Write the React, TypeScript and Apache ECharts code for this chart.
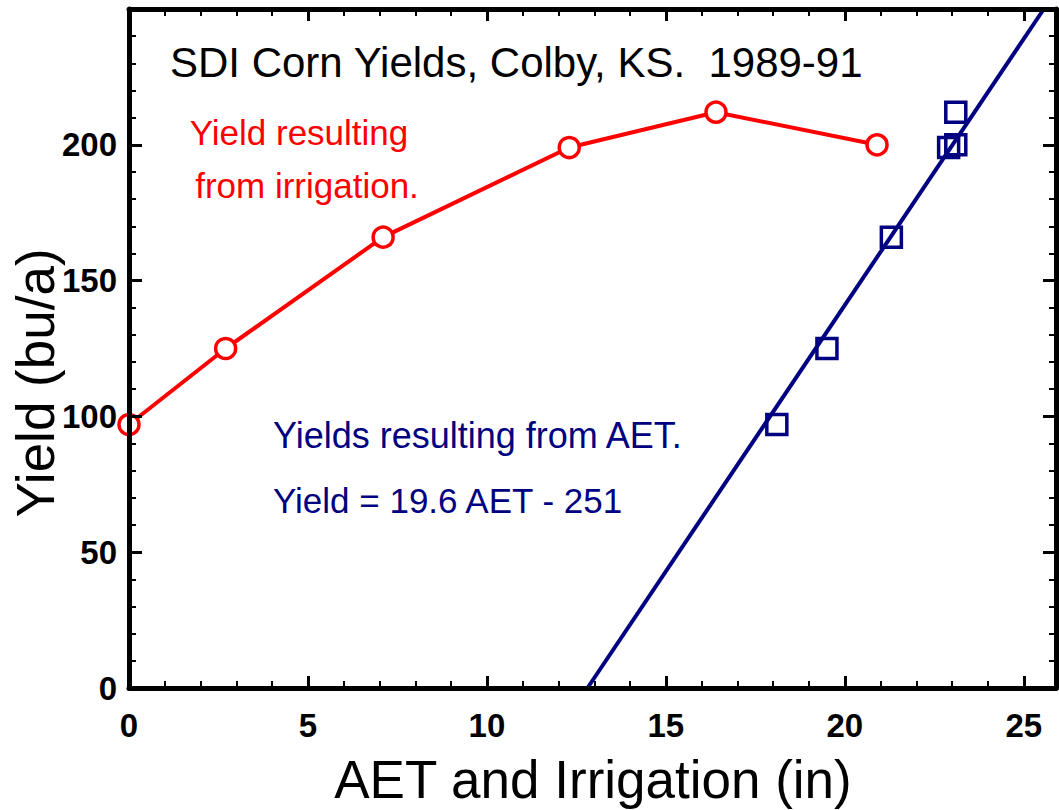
import React, { useEffect, useRef } from "react";
import * as echarts from "echarts";

// Yield resulting from irrigation (irrigation inches vs bu/a)
const irrigationX = [0, 2.7, 7.1, 12.3, 16.4, 20.9];
const irrigationY = [97, 125, 166, 199, 212, 200];

// Yields resulting from AET
const aetX = [18.1, 19.5, 21.3, 22.9, 23.1, 23.1];
const aetY = [97, 125, 166, 199, 200, 212];

// Regression line Yield = 19.6 AET - 251 (end points inside plot)
const fitX = [12.81, 25.56];
const fitY = [0, 250];

const xLabelStep = 5;
const xMinorStep = 1;
const yLabelStep = 50;
const yShownMax = 200;

const titleText = "SDI Corn Yields, Colby, KS.  1989-91";
const xTitle = "AET and Irrigation (in)";
const yTitle = "Yield (bu/a)";
const redNote = ["Yield resulting", "from irrigation."];
const blueNote = ["Yields resulting from AET.", "Yield = 19.6 AET - 251"];

const RED = "#ff0000";
const NAVY = "#000080";
const FONT = "'Liberation Sans', Arial, Helvetica, sans-serif";

const G_LEFT = 129;
const G_RIGHT = 3;
const G_TOP = 9;
const G_BOTTOM_Y = 688; // pixel of the x axis line
const MAJOR_LEN = 12;
const MINOR_LEN = 7;

export default function App() {
  const ref = useRef<HTMLDivElement>(null);

  useEffect(() => {
    if (!ref.current) return;
    const chart = echarts.init(ref.current, undefined, { renderer: "svg" });

    const xBase = { type: "value", min: 0, max: 25.9 };

    const lineX = (position: string, labels: boolean) => ({
      ...xBase,
      gridIndex: 0,
      position,
      interval: xLabelStep,
      z: 10,
      splitLine: { show: false },
      axisLine: { show: true, onZero: false, lineStyle: { color: "#000", width: 5 } },
      axisTick: { show: false },
      axisLabel: labels
        ? {
            show: true,
            margin: 21,
            formatter: (v: number) => (Math.abs(v % xLabelStep) < 1e-9 ? String(v) : ""),
            fontFamily: FONT,
            fontWeight: "bold",
            fontSize: 33,
            color: "#000",
          }
        : { show: false },
    });
    // tick strips: tiny grids whose split lines act as inward ticks
    const stripX = (gridIndex: number, step: number, width: number) => ({
      ...xBase,
      gridIndex,
      interval: step,
      z: 9,
      axisLine: { show: false },
      axisTick: { show: false },
      axisLabel: { show: false },
      splitLine: { show: true, lineStyle: { color: "#000", width } },
    });
    const stripY = (gridIndex: number) => ({
      type: "value",
      gridIndex,
      min: 0,
      max: 1,
      show: false,
    });
    const yAx = (position: string, labels: boolean) => ({
      type: "value",
      gridIndex: 0,
      min: 0,
      max: 250,
      interval: yLabelStep,
      position,
      z: 10,
      splitLine: { show: false },
      axisLine: { show: true, onZero: false, lineStyle: { color: "#000", width: 5 } },
      axisTick: { show: true, inside: true, length: 13, lineStyle: { color: "#000", width: 3 } },
      minorTick: { show: true, splitNumber: 5, length: 7, lineStyle: { color: "#000", width: 2 } },
      axisLabel: labels
        ? {
            show: true,
            margin: 12,
            formatter: (v: number) => (v > yShownMax ? "" : String(v)),
            fontFamily: FONT,
            fontWeight: "bold",
            fontSize: 33,
            color: "#000",
          }
        : { show: false },
    });

    const strip = (top: number, height: number) => ({
      left: G_LEFT,
      right: G_RIGHT,
      top,
      height,
      containLabel: false,
    });

    const option = {
      animation: false,
      backgroundColor: "#fff",
      grid: [
        { left: G_LEFT, right: G_RIGHT, top: G_TOP, bottom: 810 - G_BOTTOM_Y, containLabel: false },
        strip(G_BOTTOM_Y - MAJOR_LEN, MAJOR_LEN),
        strip(G_BOTTOM_Y - MINOR_LEN, MINOR_LEN),
        strip(G_TOP, MAJOR_LEN),
        strip(G_TOP, MINOR_LEN),
      ],
      xAxis: [
        lineX("bottom", true),
        lineX("top", false),
        stripX(1, xLabelStep, 3),
        stripX(2, xMinorStep, 2),
        stripX(3, xLabelStep, 3),
        stripX(4, xMinorStep, 2),
      ],
      yAxis: [yAx("left", true), yAx("right", false), stripY(1), stripY(2), stripY(3), stripY(4)],
      series: [
        {
          name: "Irrigation",
          type: "line",
          xAxisIndex: 0,
          yAxisIndex: 0,
          data: irrigationX.map((x, i) => [x, irrigationY[i]]),
          symbol: "circle",
          symbolSize: 20,
          clip: false,
          lineStyle: { color: RED, width: 4 },
          itemStyle: { color: "#fff", borderColor: RED, borderWidth: 3.5, opacity: 1 },
          z: 3,
        },
        {
          name: "AET fit",
          type: "line",
          xAxisIndex: 0,
          yAxisIndex: 0,
          data: fitX.map((x, i) => [x, fitY[i]]),
          symbol: "none",
          lineStyle: { color: NAVY, width: 4 },
          z: 2,
        },
        {
          name: "AET",
          type: "scatter",
          xAxisIndex: 0,
          yAxisIndex: 0,
          data: aetX.map((x, i) => [x, aetY[i]]),
          symbol: "rect",
          symbolSize: 20,
          itemStyle: { color: "rgba(0,0,0,0)", borderColor: NAVY, borderWidth: 3.5, opacity: 1 },
          z: 3,
        },
      ],
      graphic: [
        {
          type: "text",
          x: 170,
          y: 62,
          style: {
            text: titleText,
            font: `42px ${FONT}`,
            fill: "#000",
            textAlign: "left",
            textVerticalAlign: "middle",
          },
        },
        {
          type: "text",
          x: 299,
          y: 132,
          style: { text: redNote[0], font: `35px ${FONT}`, fill: RED, textAlign: "center", textVerticalAlign: "middle" },
        },
        {
          type: "text",
          x: 307,
          y: 185,
          style: { text: redNote[1], font: `35px ${FONT}`, fill: RED, textAlign: "center", textVerticalAlign: "middle" },
        },
        {
          type: "text",
          x: 273,
          y: 435,
          style: { text: blueNote[0], font: `36px ${FONT}`, fill: NAVY, textAlign: "left", textVerticalAlign: "middle" },
        },
        {
          type: "text",
          x: 273,
          y: 500,
          style: { text: blueNote[1], font: `35px ${FONT}`, fill: NAVY, textAlign: "left", textVerticalAlign: "middle" },
        },
        {
          type: "text",
          x: 593,
          y: 779,
          style: { text: xTitle, font: `53px ${FONT}`, fill: "#000", textAlign: "center", textVerticalAlign: "middle" },
        },
        {
          type: "text",
          x: 35,
          y: 383,
          rotation: Math.PI / 2,
          style: { text: yTitle, font: `53px ${FONT}`, fill: "#000", textAlign: "center", textVerticalAlign: "middle" },
        },
      ],
    };

    chart.setOption(option as any);
    return () => chart.dispose();
  }, []);

  return (
    <div
      ref={ref}
      style={{ position: "fixed", left: 0, top: 0, width: 1059, height: 810, background: "#fff" }}
    />
  );
}
